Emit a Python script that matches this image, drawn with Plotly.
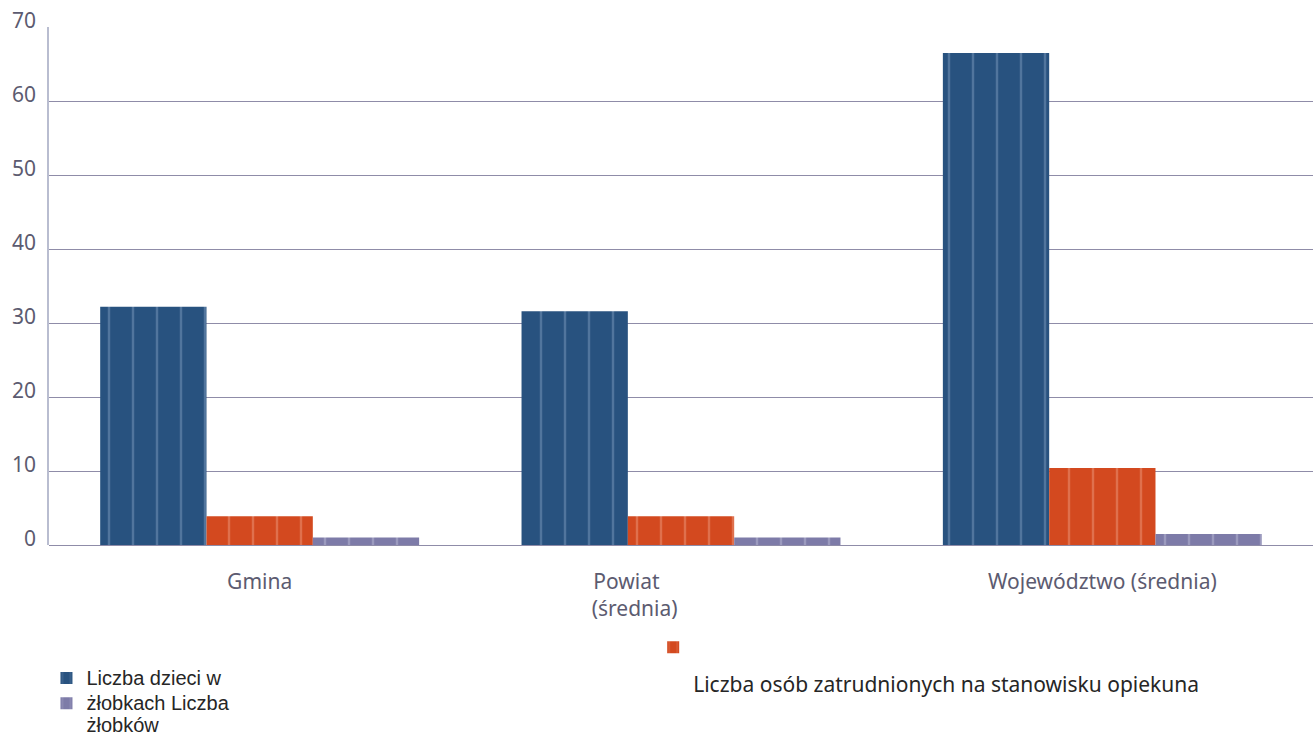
import plotly.graph_objects as go

NB = "\u00a0"
categories = ["Gmina",
              "Powiat" + NB * 20 + "<br>(średnia)" + NB * 17,
              "Województwo (średnia)"]
children = [32.2, 31.6, 66.5]
staff = [3.9, 3.9, 10.4]
nurseries = [1.0, 1.0, 1.5]

legend_labels = ["Liczba dzieci w",
                 "Liczba osób zatrudnionych na stanowisku opiekuna",
                 "żłobkach Liczba<br>żłobków"]
y_ticks = [0, 10, 20, 30, 40, 50, 60, 70]

FONT = "Noto Sans"
LEG_FONT = "Liberation Sans"
AX_COL = "#5c5b70"
TXT_COL = "#262626"


def big(txt, size):
    return "<br>".join("<span style='font-size:%dpx'>%s</span>" % (size, p) if p else ""
                       for p in txt.split("<br>"))


def pat(fg):
    return dict(shape="|", fgcolor=fg, size=24, solidity=0.1, fillmode="overlay")


fig = go.Figure()
fig.add_trace(go.Bar(x=categories, y=children, name=big(legend_labels[0], 20),
                     marker=dict(color="#28527f", line_width=0, pattern=pat("rgba(190,210,235,0.55)")),
                     legend="legend"))
fig.add_trace(go.Bar(x=categories, y=staff, name="<br><br>" + big(legend_labels[1], 21),
                     marker=dict(color="#d3491f", line_width=0, pattern=pat("rgba(250,200,180,0.6)")),
                     legend="legend2"))
fig.add_trace(go.Bar(x=categories, y=nurseries, name=big(legend_labels[2], 20),
                     marker=dict(color="#7d7ba8", line_width=0, pattern=pat("rgba(225,225,240,0.6)")),
                     legend="legend"))

fig.update_layout(
    width=1313, height=741,
    margin=dict(l=49, r=0, t=27, b=196, autoexpand=False),
    paper_bgcolor="white", plot_bgcolor="white",
    barmode="group", bargap=0.243, bargroupgap=0,
    font=dict(family=FONT, size=21, color=AX_COL),
    showlegend=True,
    legend=dict(x=-0.002, xanchor="left", y=-0.223, yanchor="top",
                font=dict(family=LEG_FONT, size=17, color=TXT_COL),
                valign="top", tracegroupgap=0, bgcolor="rgba(0,0,0,0)"),
    legend2=dict(x=0.478, xanchor="left", y=-0.166, yanchor="top",
                 font=dict(family=FONT, size=15, color=TXT_COL),
                 valign="top", bgcolor="rgba(0,0,0,0)"),
)
fig.update_xaxes(showgrid=False, showline=False, ticks="", ticklabelstandoff=22,
                 tickfont=dict(family=FONT, size=21, color=AX_COL))
fig.update_yaxes(range=[0, 70], tickvals=y_ticks, showgrid=True, gridcolor="#8f8ca8", gridwidth=1,
                 zeroline=True, zerolinecolor="#8f8ca8", zerolinewidth=1,
                 showline=True, linecolor="#b9bdd0", linewidth=1.5,
                 ticks="", ticklabelstandoff=7, ticklabelshift=-6,
                 tickfont=dict(family=FONT, size=21, color=AX_COL))

fig.write_html("out.html", post_script="document.body.style.margin='0px';",
               config={"displayModeBar": False})
